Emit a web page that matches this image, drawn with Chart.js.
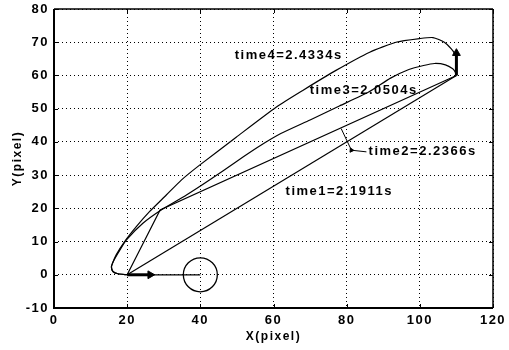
<!DOCTYPE html>
<html lang="en">
<head>
<meta charset="UTF-8">
<title>Path planning trajectories</title>
<style>
  html, body { margin: 0; padding: 0; background: #fff; }
  #wrap { width: 509px; height: 350px; }
</style>
</head>
<body>
<div id="wrap"><canvas id="pathChart" width="509" height="350"></canvas></div>

<script src="https://cdn.jsdelivr.net/npm/chart.js"></script>
<script>
// axis ranges
const xMin = 0, xMax = 120, xStep = 20;
const yMin = -10, yMax = 80, yStep = 10;

// time1: straight line start -> goal
const path1X = [20, 110];
const path1Y = [0, 60];

// time2: two straight segments
const path2X = [20, 29, 110];
const path2Y = [0, 19.5, 60];

// time3: inner curve
const path3X = [20, 17.5, 16.1, 15.7, 16, 16.8, 18.2, 19.8, 24.3, 29.3, 36.2, 42.5, 50, 56, 62, 70, 78, 86, 92, 97, 101, 104, 107, 109, 109.7, 110];
const path3Y = [0, 0.3, 1, 2.3, 3.5, 5.2, 7.8, 10.5, 15.5, 19.5, 24, 28.5, 34.2, 38.6, 42.5, 46.6, 50.8, 55, 59.2, 61.8, 63, 63.6, 63.2, 62, 61, 60];

// time4: outer curve
const path4X = [20, 17.5, 16.1, 15.7, 16, 17, 19.3, 22.5, 26.1, 30.7, 34.8, 39.8, 49.8, 60.8, 68, 77.2, 86.3, 93.5, 100, 103.6, 106.7, 108.6, 109.5, 110];
const path4Y = [0, 0.3, 1, 2.3, 3.5, 6, 10, 14.5, 19, 24, 28.5, 33, 41.4, 50.5, 55.5, 61.6, 67, 70, 71.1, 71.4, 70, 68, 66.6, 65];

// start heading, start arrow, goal arrow, obstacle
const headX = [20, 40];
const headY = [0, 0];
const startArrowX = [20, 26.3];
const startArrowY = [0, 0];
const goalArrowX = [110, 110];
const goalArrowY = [60, 66.7];
const obstacleX = [40];
const obstacleY = [0];

// leader line for time2 label
const leaderX = [85.4, 81.3, 78.5];
const leaderY = [37, 37.5, 44];

// text notes
const noteText = ['time1=2.1911s', 'time2=2.2366s', 'time3=2.0504s', 'time4=2.4334s'];
const noteX = [63.3, 86, 69.9, 49.4];
const noteY = [25, 37, 55.6, 66.1];

const pts = (xs, ys) => xs.map((x, i) => ({ x: x, y: ys[i] }));

function curve(xs, ys, tension) {
    return {
        data: pts(xs, ys),
        showLine: true,
        borderColor: '#000',
        borderWidth: 1.2,
        pointRadius: 0,
        tension: tension,
        fill: false
    };
}

function arrow(xs, ys, width, head, rot) {
    return {
        data: pts(xs, ys),
        showLine: true,
        borderColor: '#000',
        borderWidth: width,
        pointRadius: [0, head],
        pointStyle: 'triangle',
        rotation: rot,
        pointBackgroundColor: '#000',
        pointBorderColor: '#000',
        pointBorderWidth: 1
    };
}

// wide letter spacing for every text on the canvas
const spacingPlugin = {
    id: 'spacing',
    beforeDraw(chart) {
        chart.ctx.letterSpacing = '1.5px';
    }
};

// text labels on the plot
const notesPlugin = {
    id: 'notes',
    afterDatasetsDraw(chart) {
        const ctx = chart.ctx;
        const sx = chart.scales.x, sy = chart.scales.y;
        ctx.save();
        ctx.font = 'bold 13px "Liberation Sans", Arial, sans-serif';
        ctx.letterSpacing = '1.5px';
        ctx.fillStyle = '#000';
        ctx.textAlign = 'left';
        ctx.textBaseline = 'middle';
        noteText.forEach((t, i) => {
            ctx.fillText(t, sx.getPixelForValue(noteX[i]), sy.getPixelForValue(noteY[i]));
        });
        ctx.restore();
    }
};

// solid box round the plot and inward tick marks
const boxPlugin = {
    id: 'box',
    afterDraw(chart) {
        const ctx = chart.ctx;
        const a = chart.chartArea;
        const sx = chart.scales.x, sy = chart.scales.y;
        ctx.save();
        ctx.strokeStyle = '#000';
        ctx.lineWidth = 1;
        ctx.beginPath();
        sx.ticks.forEach(t => {
            const p = Math.round(sx.getPixelForValue(t.value)) + 0.5;
            ctx.moveTo(p, a.bottom); ctx.lineTo(p, a.bottom - 4);
            ctx.moveTo(p, a.top); ctx.lineTo(p, a.top + 4);
        });
        sy.ticks.forEach(t => {
            const p = Math.round(sy.getPixelForValue(t.value)) + 0.5;
            ctx.moveTo(a.left, p); ctx.lineTo(a.left + 4, p);
            ctx.moveTo(a.right, p); ctx.lineTo(a.right - 4, p);
        });
        ctx.stroke();
        ctx.lineWidth = 1.5;
        ctx.beginPath();
        ctx.moveTo(a.left, a.top); ctx.lineTo(a.right, a.top);
        ctx.moveTo(a.right, a.top); ctx.lineTo(a.right, a.bottom);
        ctx.stroke();
        ctx.lineWidth = 2;
        ctx.beginPath();
        ctx.moveTo(a.left, a.top); ctx.lineTo(a.left, a.bottom);
        ctx.lineTo(a.right, a.bottom);
        ctx.stroke();
        ctx.restore();
    }
};

const tickFont = { family: '"Liberation Sans", Arial, sans-serif', size: 13, weight: 'bold' };
const titleFont = { family: '"Liberation Sans", Arial, sans-serif', size: 12, weight: 'bold' };

function noPadding(s) {
    s.paddingTop = 0;
    s.paddingBottom = 0;
    s.paddingLeft = 0;
    s.paddingRight = 0;
}

new Chart(document.getElementById('pathChart'), {
    type: 'scatter',
    data: {
        datasets: [
            curve(path1X, path1Y, 0),
            curve(path2X, path2Y, 0),
            curve(path3X, path3Y, 0.2),
            curve(path4X, path4Y, 0.2),
            curve(headX, headY, 0),
            arrow(startArrowX, startArrowY, 3, 4.5, 90),
            arrow(goalArrowX, goalArrowY, 3, 4.5, 0),
            arrow(leaderX, leaderY, 1, 2.5, -25),
            {
                data: pts(obstacleX, obstacleY),
                pointRadius: 17,
                pointStyle: 'circle',
                pointBackgroundColor: 'rgba(0,0,0,0)',
                pointBorderColor: '#000',
                pointBorderWidth: 1.3
            }
        ]
    },
    options: {
        responsive: false,
        animation: false,
        events: [],
        layout: { autoPadding: false, padding: { left: 0, top: 9, right: 16, bottom: 0 } },
        plugins: {
            legend: { display: false },
            tooltip: { enabled: false }
        },
        scales: {
            x: {
                type: 'linear',
                min: xMin, max: xMax,
                ticks: { stepSize: xStep, color: '#000', font: tickFont, padding: 5 },
                grid: { color: '#000', lineWidth: 1, drawTicks: false },
                border: { display: false, dash: [1, 3] },
                title: { display: true, text: 'X(pixel)', color: '#000', font: titleFont, padding: { top: 0, bottom: 6 } },
                afterFit(s) { s.height = 42; noPadding(s); }
            },
            y: {
                type: 'linear',
                min: yMin, max: yMax,
                ticks: { stepSize: yStep, color: '#000', font: tickFont, padding: 5 },
                grid: { color: '#000', lineWidth: 1, drawTicks: false },
                border: { display: false, dash: [1, 3] },
                title: { display: true, text: 'Y(pixel)', color: '#000', font: titleFont, padding: { top: 10, bottom: 0 } },
                afterFit(s) { s.width = 54; noPadding(s); }
            }
        }
    },
    plugins: [spacingPlugin, notesPlugin, boxPlugin]
});
</script>
</body>
</html>
